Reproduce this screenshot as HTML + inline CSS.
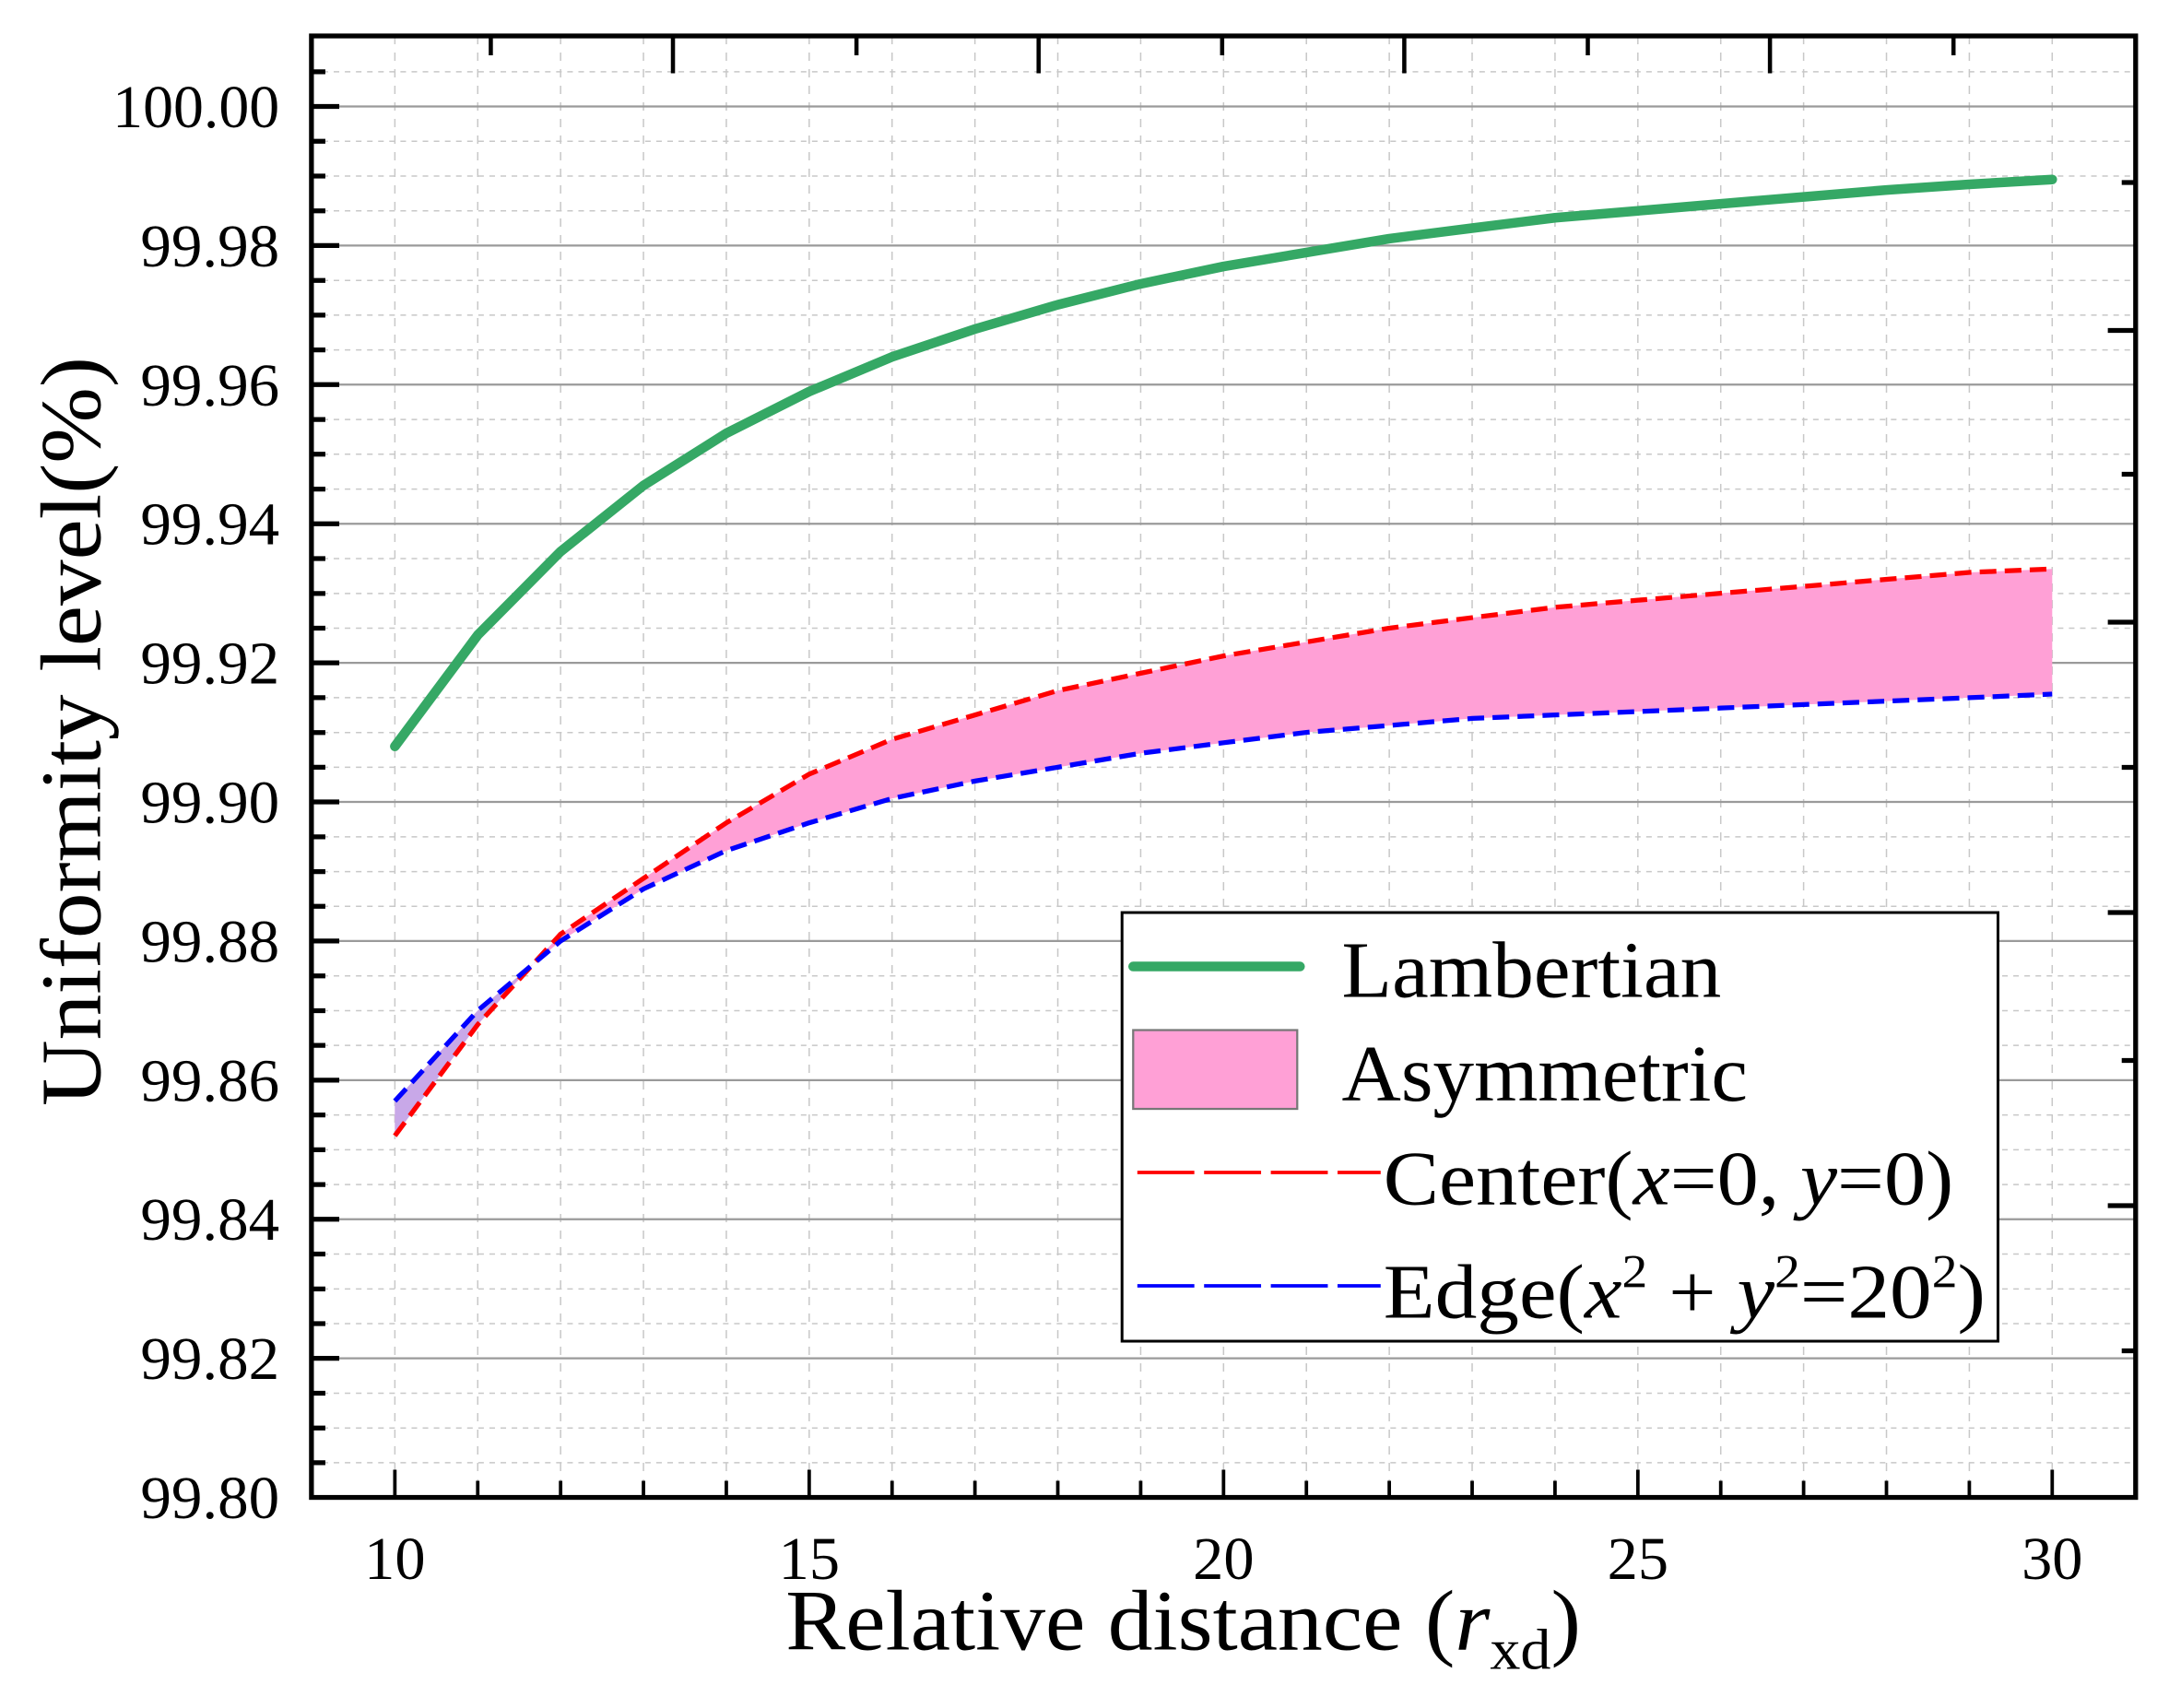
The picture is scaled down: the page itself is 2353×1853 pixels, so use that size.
<!DOCTYPE html>
<html><head><meta charset="utf-8"><style>html,body{margin:0;padding:0;background:#fff}svg{display:block}</style></head>
<body>
<svg width="2353" height="1853" viewBox="0 0 1560 1235.3" preserveAspectRatio="none" xmlns="http://www.w3.org/2000/svg" font-family="'Liberation Serif', serif">
<rect width="1560" height="1236" fill="#fff"/>
<path d="M224 51.9H1536M224 102.2H1536M224 127.3H1536M224 152.5H1536M224 202.8H1536M224 227.9H1536M224 253.1H1536M224 303.4H1536M224 328.5H1536M224 353.7H1536M224 404H1536M224 429.2H1536M224 454.3H1536M224 504.6H1536M224 529.8H1536M224 554.9H1536M224 605.2H1536M224 630.4H1536M224 655.5H1536M224 705.8H1536M224 731H1536M224 756.1H1536M224 806.4H1536M224 831.6H1536M224 856.7H1536M224 907H1536M224 932.2H1536M224 957.3H1536M224 1007.6H1536M224 1032.8H1536M224 1057.9H1536" stroke="#c8c8c8" stroke-width="1" stroke-dasharray="4,4" fill="none"/>
<path d="M284 26V1083M343.6 26V1083M403.2 26V1083M462.8 26V1083M522.4 26V1083M582 26V1083M641.6 26V1083M701.2 26V1083M760.8 26V1083M820.4 26V1083M880 26V1083M939.6 26V1083M999.2 26V1083M1058.8 26V1083M1118.4 26V1083M1178 26V1083M1237.6 26V1083M1297.2 26V1083M1356.8 26V1083M1416.4 26V1083M1476 26V1083" stroke="#c8c8c8" stroke-width="1" stroke-dasharray="6,6" fill="none"/>
<path d="M224 77H1536M224 177.6H1536M224 278.2H1536M224 378.8H1536M224 479.4H1536M224 580H1536M224 680.6H1536M224 781.2H1536M224 881.8H1536M224 982.4H1536" stroke="#9a9a9a" stroke-width="1.5" fill="none"/>
<polygon fill="#ffa0d6" points="284,821.4 343.6,741 403.2,675.6 462.8,635.3 522.4,595.1 582,559.9 641.6,534.7 701.2,517.1 760.8,499.5 820.4,486.9 880,474.4 939.6,464.3 999.2,454.3 1058.8,446.7 1118.4,439.2 1178,434.1 1237.6,429.1 1297.2,424.1 1356.8,419 1416.4,414 1476,411.5 1476,502 1416.4,504.6 1356.8,507.1 1297.2,509.6 1237.6,512.1 1178,514.6 1118.4,517.1 1058.8,519.6 999.2,524.7 939.6,529.7 880,537.2 820.4,544.8 760.8,554.9 701.2,564.9 641.6,577.5 582,595.1 522.4,615.2 462.8,642.9 403.2,680.6 343.6,730.9 284,796.3"/>
<polygon fill="#c8a8e8" points="284,796.3 343.6,730.9 380,700 343.6,741 284,821.4"/>
<polyline fill="none" stroke="#ff0000" stroke-width="3.5" stroke-dasharray="12,6" points="284,821.4 343.6,741 403.2,675.6 462.8,635.3 522.4,595.1 582,559.9 641.6,534.7 701.2,517.1 760.8,499.5 820.4,486.9 880,474.4 939.6,464.3 999.2,454.3 1058.8,446.7 1118.4,439.2 1178,434.1 1237.6,429.1 1297.2,424.1 1356.8,419 1416.4,414 1476,411.5"/>
<polyline fill="none" stroke="#0000ff" stroke-width="3.5" stroke-dasharray="12,6" points="284,796.3 343.6,730.9 403.2,680.6 462.8,642.9 522.4,615.2 582,595.1 641.6,577.5 701.2,564.9 760.8,554.9 820.4,544.8 880,537.2 939.6,529.7 999.2,524.7 1058.8,519.6 1118.4,517.1 1178,514.6 1237.6,512.1 1297.2,509.6 1356.8,507.1 1416.4,504.6 1476,502"/>
<polyline fill="none" stroke="#35a865" stroke-width="7" stroke-linecap="round" stroke-linejoin="round" points="284,539.8 343.6,459.3 403.2,398.9 462.8,351.1 522.4,313.4 582,283.2 641.6,258.1 701.2,238 760.8,220.4 820.4,205.3 880,192.7 939.6,182.6 999.2,172.6 1058.8,165 1118.4,157.5 1178,152.5 1237.6,147.4 1297.2,142.4 1356.8,137.4 1416.4,133.3 1476,129.8"/>
<path d="M224 77h20M224 177.6h20M224 278.2h20M224 378.8h20M224 479.4h20M224 580h20M224 680.6h20M224 781.2h20M224 881.8h20M224 982.4h20" stroke="#000" stroke-width="3.5"/>
<path d="M224 51.9h10M224 102.2h10M224 127.3h10M224 152.5h10M224 202.8h10M224 227.9h10M224 253.1h10M224 303.4h10M224 328.5h10M224 353.7h10M224 404h10M224 429.2h10M224 454.3h10M224 504.6h10M224 529.8h10M224 554.9h10M224 605.2h10M224 630.4h10M224 655.5h10M224 705.8h10M224 731h10M224 756.1h10M224 806.4h10M224 831.6h10M224 856.7h10M224 907h10M224 932.2h10M224 957.3h10M224 1007.6h10M224 1032.8h10M224 1057.9h10" stroke="#000" stroke-width="3.5"/>
<path d="M284 1083v-20M582 1083v-20M880 1083v-20M1178 1083v-20M1476 1083v-20" stroke="#000" stroke-width="2.5"/>
<path d="M343.6 1083v-12M403.2 1083v-12M462.8 1083v-12M522.4 1083v-12M641.6 1083v-12M701.2 1083v-12M760.8 1083v-12M820.4 1083v-12M939.6 1083v-12M999.2 1083v-12M1058.8 1083v-12M1118.4 1083v-12M1237.6 1083v-12M1297.2 1083v-12M1356.8 1083v-12M1416.4 1083v-12" stroke="#000" stroke-width="2.5"/>
<path d="M1536 239h-20M1536 450h-20M1536 660h-20M1536 872h-20M1536 132h-10M1536 343h-10M1536 555h-10M1536 767h-10M1536 977h-10" stroke="#000" stroke-width="3.5"/>
<path d="M484 26v27M747 26v27M1010 26v27M1273 26v27M353 26v14M616 26v14M879 26v14M1142 26v14M1405 26v14" stroke="#000" stroke-width="3"/>
<rect x="224" y="26" width="1312" height="1057" fill="none" stroke="#000" stroke-width="3.5"/>
<g font-size="44" text-anchor="end">
<text x="201" y="92" textLength="120" lengthAdjust="spacingAndGlyphs">100.00</text>
<text x="201" y="192.6" textLength="100" lengthAdjust="spacingAndGlyphs">99.98</text>
<text x="201" y="293.2" textLength="100" lengthAdjust="spacingAndGlyphs">99.96</text>
<text x="201" y="393.8" textLength="100" lengthAdjust="spacingAndGlyphs">99.94</text>
<text x="201" y="494.4" textLength="100" lengthAdjust="spacingAndGlyphs">99.92</text>
<text x="201" y="595" textLength="100" lengthAdjust="spacingAndGlyphs">99.90</text>
<text x="201" y="695.6" textLength="100" lengthAdjust="spacingAndGlyphs">99.88</text>
<text x="201" y="796.2" textLength="100" lengthAdjust="spacingAndGlyphs">99.86</text>
<text x="201" y="896.8" textLength="100" lengthAdjust="spacingAndGlyphs">99.84</text>
<text x="201" y="997.4" textLength="100" lengthAdjust="spacingAndGlyphs">99.82</text>
<text x="201" y="1098" textLength="100" lengthAdjust="spacingAndGlyphs">99.80</text>
</g>
<g font-size="44" text-anchor="middle">
<text x="284" y="1142" textLength="44" lengthAdjust="spacingAndGlyphs">10</text><text x="582" y="1142" textLength="44" lengthAdjust="spacingAndGlyphs">15</text><text x="880" y="1142" textLength="44" lengthAdjust="spacingAndGlyphs">20</text><text x="1178" y="1142" textLength="44" lengthAdjust="spacingAndGlyphs">25</text><text x="1476" y="1142" textLength="44" lengthAdjust="spacingAndGlyphs">30</text>
</g>
<text x="565" y="1193" font-size="62" textLength="572" lengthAdjust="spacingAndGlyphs">Relative distance (<tspan font-style="italic">r</tspan><tspan font-size="42" dy="14">xd</tspan><tspan dy="-14">)</tspan></text>
<text transform="translate(72,800) rotate(-90)" font-size="62" textLength="542" lengthAdjust="spacingAndGlyphs">Uniformity level(%)</text>
<rect x="807" y="660" width="630" height="310" fill="#fff" stroke="#000" stroke-width="2"/>
<line x1="815" y1="699" x2="935" y2="699" stroke="#35a865" stroke-width="7" stroke-linecap="round"/>
<text x="965" y="721" font-size="58" textLength="273" lengthAdjust="spacingAndGlyphs">Lambertian</text>
<rect x="815" y="745" width="118" height="57" fill="#ffa0d6" stroke="#777" stroke-width="1.5"/>
<text x="965" y="796" font-size="58" textLength="292" lengthAdjust="spacingAndGlyphs">Asymmetric</text>
<line x1="818" y1="848" x2="993" y2="848" stroke="#ff0000" stroke-width="2.5" stroke-dasharray="41,7"/>
<text x="995" y="871" font-size="56" textLength="410" lengthAdjust="spacingAndGlyphs">Center(<tspan font-style="italic">x</tspan>=0, <tspan font-style="italic">y</tspan>=0)</text>
<line x1="818" y1="930" x2="993" y2="930" stroke="#0000ff" stroke-width="2.5" stroke-dasharray="41,7"/>
<text x="995" y="953" font-size="56" textLength="433" lengthAdjust="spacingAndGlyphs">Edge(<tspan font-style="italic">x</tspan><tspan font-size="34" dy="-22">2</tspan><tspan dy="22"> + </tspan><tspan font-style="italic">y</tspan><tspan font-size="34" dy="-22">2</tspan><tspan dy="22">=20</tspan><tspan font-size="34" dy="-22">2</tspan><tspan dy="22">)</tspan></text>
</svg>
</body></html>
